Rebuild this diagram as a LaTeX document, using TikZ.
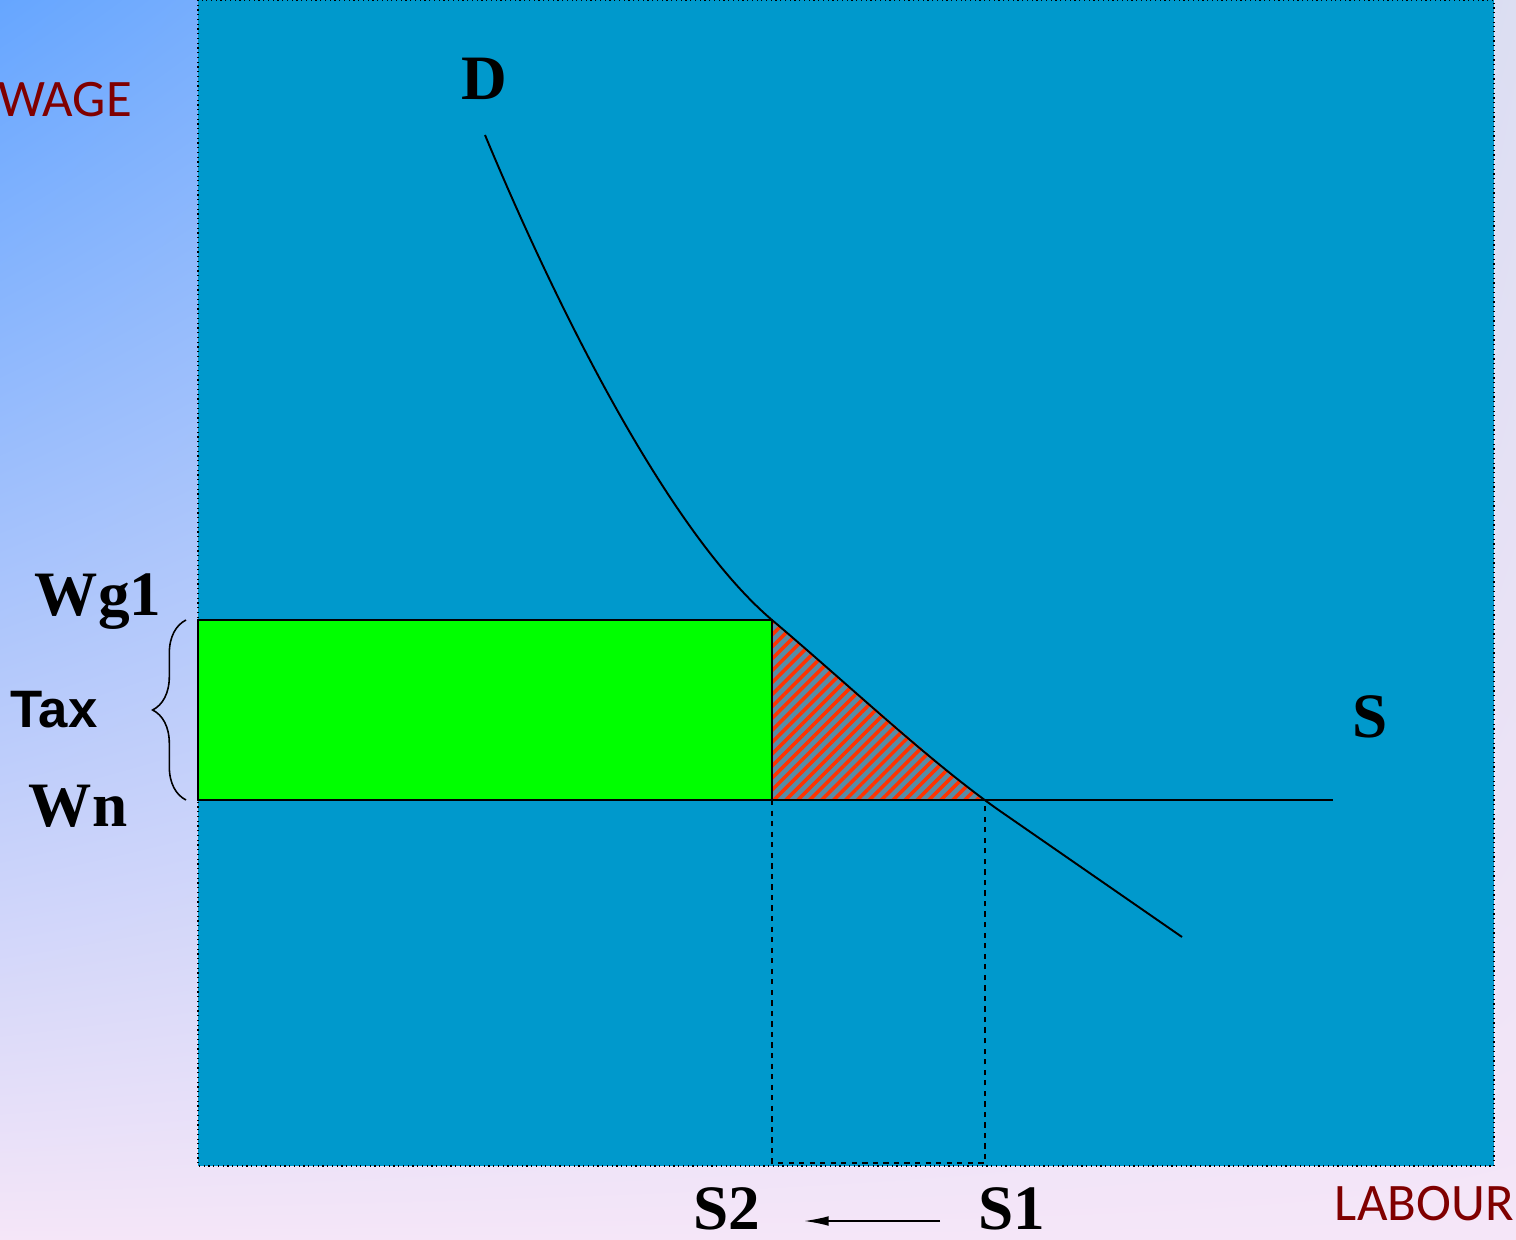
\documentclass[tikz,border=0pt]{standalone}
\usepackage{fontspec}
\setmainfont{Liberation Serif}
\newfontfamily\axisfont{Carlito}
\newfontfamily\taxfont{Liberation Sans}
\usetikzlibrary{arrows.meta, decorations.pathreplacing, patterns.meta, shadings}
\definecolor{panelblue}{RGB}{0,153,204}
\definecolor{bgblue}{RGB}{102,166,255}
\definecolor{bglav}{RGB}{220,222,242}
\definecolor{bgpink}{RGB}{245,230,248}
\definecolor{axisred}{RGB}{128,0,0}
\definecolor{taxgreen}{RGB}{0,255,0}
\definecolor{hatchbg}{RGB}{88,140,165}
\definecolor{hatchred}{RGB}{255,51,0}
\tikzset{
  % --- Khung va vung ----------------------------------------
  panel/.style={fill=panelblue, draw=black, dotted, line width=0.7pt},
  taxbox/.style={fill=taxgreen, draw=black, line width=1.4pt},
  lossarea/.style={pattern={Lines[angle=45, distance=4.8pt, line width=2pt]},
    pattern color=hatchred},
  % --- Duong cung cau ---------------------------------------
  curve/.style={draw=black, line width=1.1pt},
  guide/.style={draw=black, dashed, line width=0.9pt},
  taxbrace/.style={draw=black, line width=0.9pt, decorate,
    decoration={brace, amplitude=19pt}},
  shiftarr/.style={-{Latex[length=14pt, width=5.5pt]}, line width=0.9pt},
  % --- Nhan -------------------------------------------------
  biglbl/.style={font=\fontsize{36}{40}\selectfont\bfseries, anchor=base,
    inner sep=0pt},
  axislbl/.style={font=\axisfont\fontsize{30}{34}\selectfont,
    text=axisred, anchor=base, inner sep=0pt},
  taxlbl/.style={font=\taxfont\fontsize{30}{34}\selectfont\bfseries,
    anchor=base, inner sep=0pt}
}

\begin{document}
\begin{tikzpicture}[x=0.02cm, y=-0.02cm]

  \useasboundingbox (0,0) rectangle (1516,1240);

  % ---------- Nen ----------
  \shade[upper left=bgblue, upper right=bglav, lower left=bgpink,
    lower right=bgpink] (0,0) rectangle (1516,1240);
  \draw[panel] (198,0) rectangle (1494,1166);

  % ---------- Diem chinh ----------
  \coordinate (wg) at (772,620);
  \coordinate (wn) at (198,800);
  \coordinate (s2) at (772,800);
  \coordinate (s1) at (982,800);

  % ---------- Vung thue va tam giac ----------
  \draw[taxbox] (198,620) rectangle (s2);
  \fill[hatchbg] (wg) -- (s1) -- (s2) -- cycle;
  \fill[lossarea] (wg) -- (s1) -- (s2) -- cycle;
  \draw[curve] (wg) -- (s2) -- (s1);

  % ---------- Duong gioi han ----------
  \draw[guide] (s2) -- (772,1163) -- (985,1163) -- (985,800);

  % ---------- Cung (S) va cau (D) ----------
  \draw[curve] (wn) -- (1333,800);
  \draw[curve] (485,135) .. controls (562,320) and (672,535) .. (wg)
    .. controls (850,686) and (930,762) .. (1000,811) -- (1182,937);

  % ---------- Ngoac thue ----------
  \draw[taxbrace] (186,800) -- (186,620);

  % ---------- Nhan ----------
  \node[axislbl] (wage) at (65,117) {WAGE};
  \node[axislbl, anchor=base east] (labour) at (1514,1220) {LABOUR};
  \node[biglbl] (dlbl) at (484,100) {D};
  \node[biglbl] (slbl) at (1370,737) {S};
  \node[biglbl] (wglbl) at (98,615) {Wg1};
  \node[biglbl] (wnlbl) at (78,826) {Wn};
  \node[taxlbl] (taxlbl) at (54,727) {Tax};
  \node[biglbl] (s2lbl) at (727,1229) {S2};
  \node[biglbl] (s1lbl) at (1012,1229) {S1};

  % ---------- Dich chuyen ----------
  \coordinate (arrR) at (940,1221);
  \coordinate (arrL) at (804,1221);
  \draw[shiftarr] (arrR) -- (arrL);

\end{tikzpicture}
\end{document}
